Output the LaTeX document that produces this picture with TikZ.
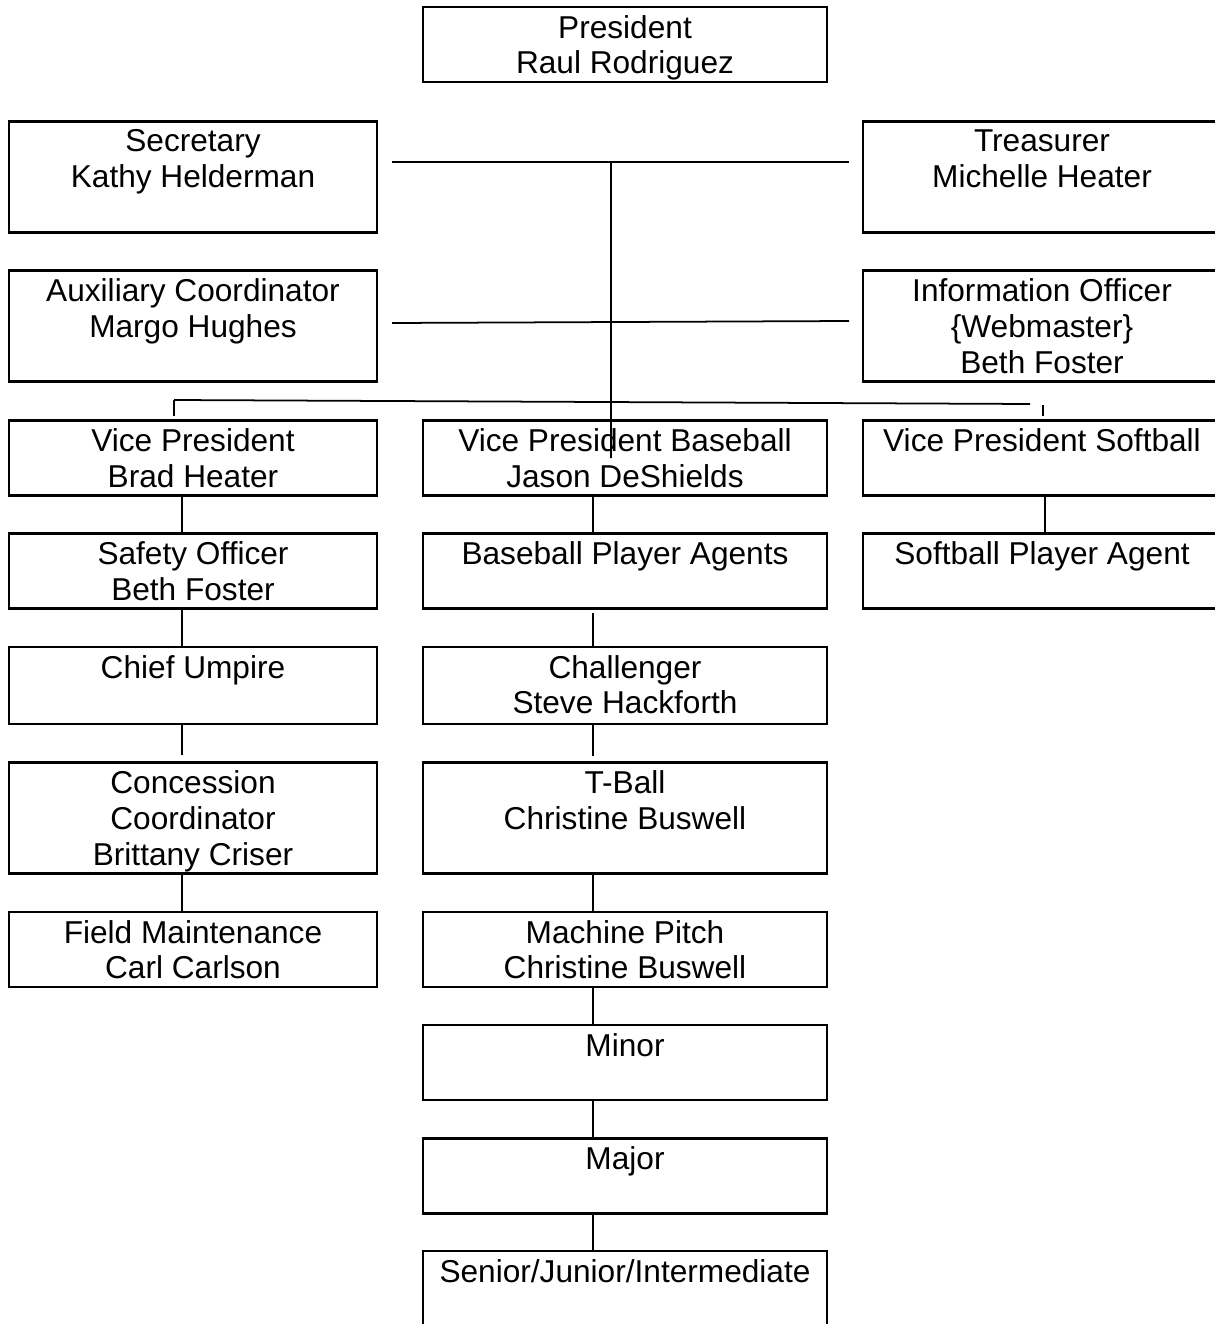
\documentclass[tikz,border=0pt]{standalone}
\usepackage{fontspec}
\setmainfont{Liberation Sans}
\tikzset{
  box/.style={draw, rectangle, line width=1.2pt, inner sep=0pt},
  lcol/.style={box, minimum width=7.36cm},
  mcol/.style={box, minimum width=8.08cm},
  rcol/.style={box, minimum width=7.16cm},
  short/.style={minimum height=1.5cm},
  tall/.style={minimum height=2.22cm},
  lbl/.style={below=5pt, inner sep=0pt, align=center, font=\fontsize{18}{20.4}\selectfont},
  link/.style={line width=1pt}
}
\begin{document}
\begin{tikzpicture}[x=0.02cm, y=-0.02cm]
            \useasboundingbox (0,0) rectangle (1214,1324);

            % top of the chart
            \node[mcol, short] (pres) at (625,44.5) {};
            \node[lbl] at (pres.north) {President\\Raul Rodriguez};

            \node[lcol, tall] (sec) at (193,177) {};
            \node[lbl] at (sec.north) {Secretary\\Kathy Helderman};
            \node[rcol, tall] (tre) at (1042,177) {};
            \node[lbl] at (tre.north) {Treasurer\\Michelle Heater};

            \node[lcol, tall] (aux) at (193,326) {};
            \node[lbl] at (aux.north) {Auxiliary Coordinator\\Margo Hughes};
            \node[rcol, tall] (info) at (1042,326) {};
            \node[lbl] at (info.north) {Information Officer\\\{Webmaster\}\\Beth Foster};

            % vice presidents
            \node[lcol, short] (vpl) at (193,458) {};
            \node[lbl] at (vpl.north) {Vice President\\Brad Heater};
            \node[mcol, short] (vpb) at (625,458) {};
            \node[lbl] at (vpb.north) {Vice President Baseball\\Jason DeShields};
            \node[rcol, short] (vps) at (1042,458) {};
            \node[lbl] at (vps.north) {Vice President Softball};

            % left column
            \node[lcol, short] (safe) at (193,571) {};
            \node[lbl] at (safe.north) {Safety Officer\\Beth Foster};
            \node[lcol, short, minimum height=1.54cm] (ump) at (193,685.5) {};
            \node[lbl] at (ump.north) {Chief Umpire};
            \node[lcol, tall] (conc) at (193,818) {};
            \node[lbl] at (conc.north) {Concession\\Coordinator\\Brittany Criser};
            \node[lcol, short] (field) at (193,949.5) {};
            \node[lbl] at (field.north) {Field Maintenance\\Carl Carlson};

            % middle column
            \node[mcol, short] (bpa) at (625,571) {};
            \node[lbl] at (bpa.north) {Baseball Player Agents};
            \node[mcol, short, minimum height=1.54cm] (chal) at (625,685.5) {};
            \node[lbl] at (chal.north) {Challenger\\Steve Hackforth};
            \node[mcol, tall] (tball) at (625,818) {};
            \node[lbl] at (tball.north) {T-Ball\\Christine Buswell};
            \node[mcol, short] (mach) at (625,949.5) {};
            \node[lbl] at (mach.north) {Machine Pitch\\Christine Buswell};
            \node[mcol, short] (minor) at (625,1062.5) {};
            \node[lbl] at (minor.north) {Minor};
            \node[mcol, short] (major) at (625,1176) {};
            \node[lbl] at (major.north) {Major};
            \node[mcol, short] (senior) at (625,1288.5) {};
            \node[lbl] at (senior.north) {Senior/Junior/Intermediate};

            % right column
            \node[rcol, short] (spa) at (1042,571) {};
            \node[lbl] at (spa.north) {Softball Player Agent};

            % board lines
            \coordinate (h1l) at (392,162);
            \coordinate (h1r) at (849,162);
            \coordinate (trunk) at (611,162);
            \coordinate (h2l) at (392,323);
            \coordinate (h2r) at (849,321);
            \coordinate (h3l) at (174,400);
            \coordinate (h3r) at (1030,404);
            \coordinate (tick) at (1043,405);

            \draw[link] (h1l) -- (h1r);
            \draw[link] (h2l) -- (h2r);
            \draw[link] (trunk) -- ([xshift=-0.28cm]vpb.center);
            \draw[link] (h3l) -- (h3r);
            \draw[link] (h3l) -- ([yshift=0.06cm]h3l |- vpl.north);
            \draw[link] (tick) -- ([yshift=0.06cm]tick |- vps.north);

            % column links
            \draw[link] ([xshift=-0.22cm]vpl.south) -- ([xshift=-0.22cm]safe.north);
            \draw[link] ([xshift=-0.22cm]safe.south) -- ([xshift=-0.22cm]ump.north);
            \draw[link] ([xshift=-0.22cm]ump.south) -- ([xshift=-0.22cm,yshift=0.12cm]conc.north);
            \draw[link] ([xshift=-0.22cm]conc.south) -- ([xshift=-0.22cm]field.north);

            \draw[link] ([xshift=-0.64cm]vpb.south) -- ([xshift=-0.64cm]bpa.north);
            \draw[link] ([xshift=-0.64cm,yshift=-0.06cm]bpa.south) -- ([xshift=-0.64cm]chal.north);
            \draw[link] ([xshift=-0.64cm]chal.south) -- ([xshift=-0.64cm,yshift=0.1cm]tball.north);
            \draw[link] ([xshift=-0.64cm]tball.south) -- ([xshift=-0.64cm]mach.north);
            \draw[link] ([xshift=-0.64cm]mach.south) -- ([xshift=-0.64cm]minor.north);
            \draw[link] ([xshift=-0.64cm]minor.south) -- ([xshift=-0.64cm]major.north);
            \draw[link] ([xshift=-0.64cm]major.south) -- ([xshift=-0.64cm]senior.north);

            \draw[link] ([xshift=0.06cm]vps.south) -- ([xshift=0.06cm]spa.north);
        \end{tikzpicture}
\end{document}
